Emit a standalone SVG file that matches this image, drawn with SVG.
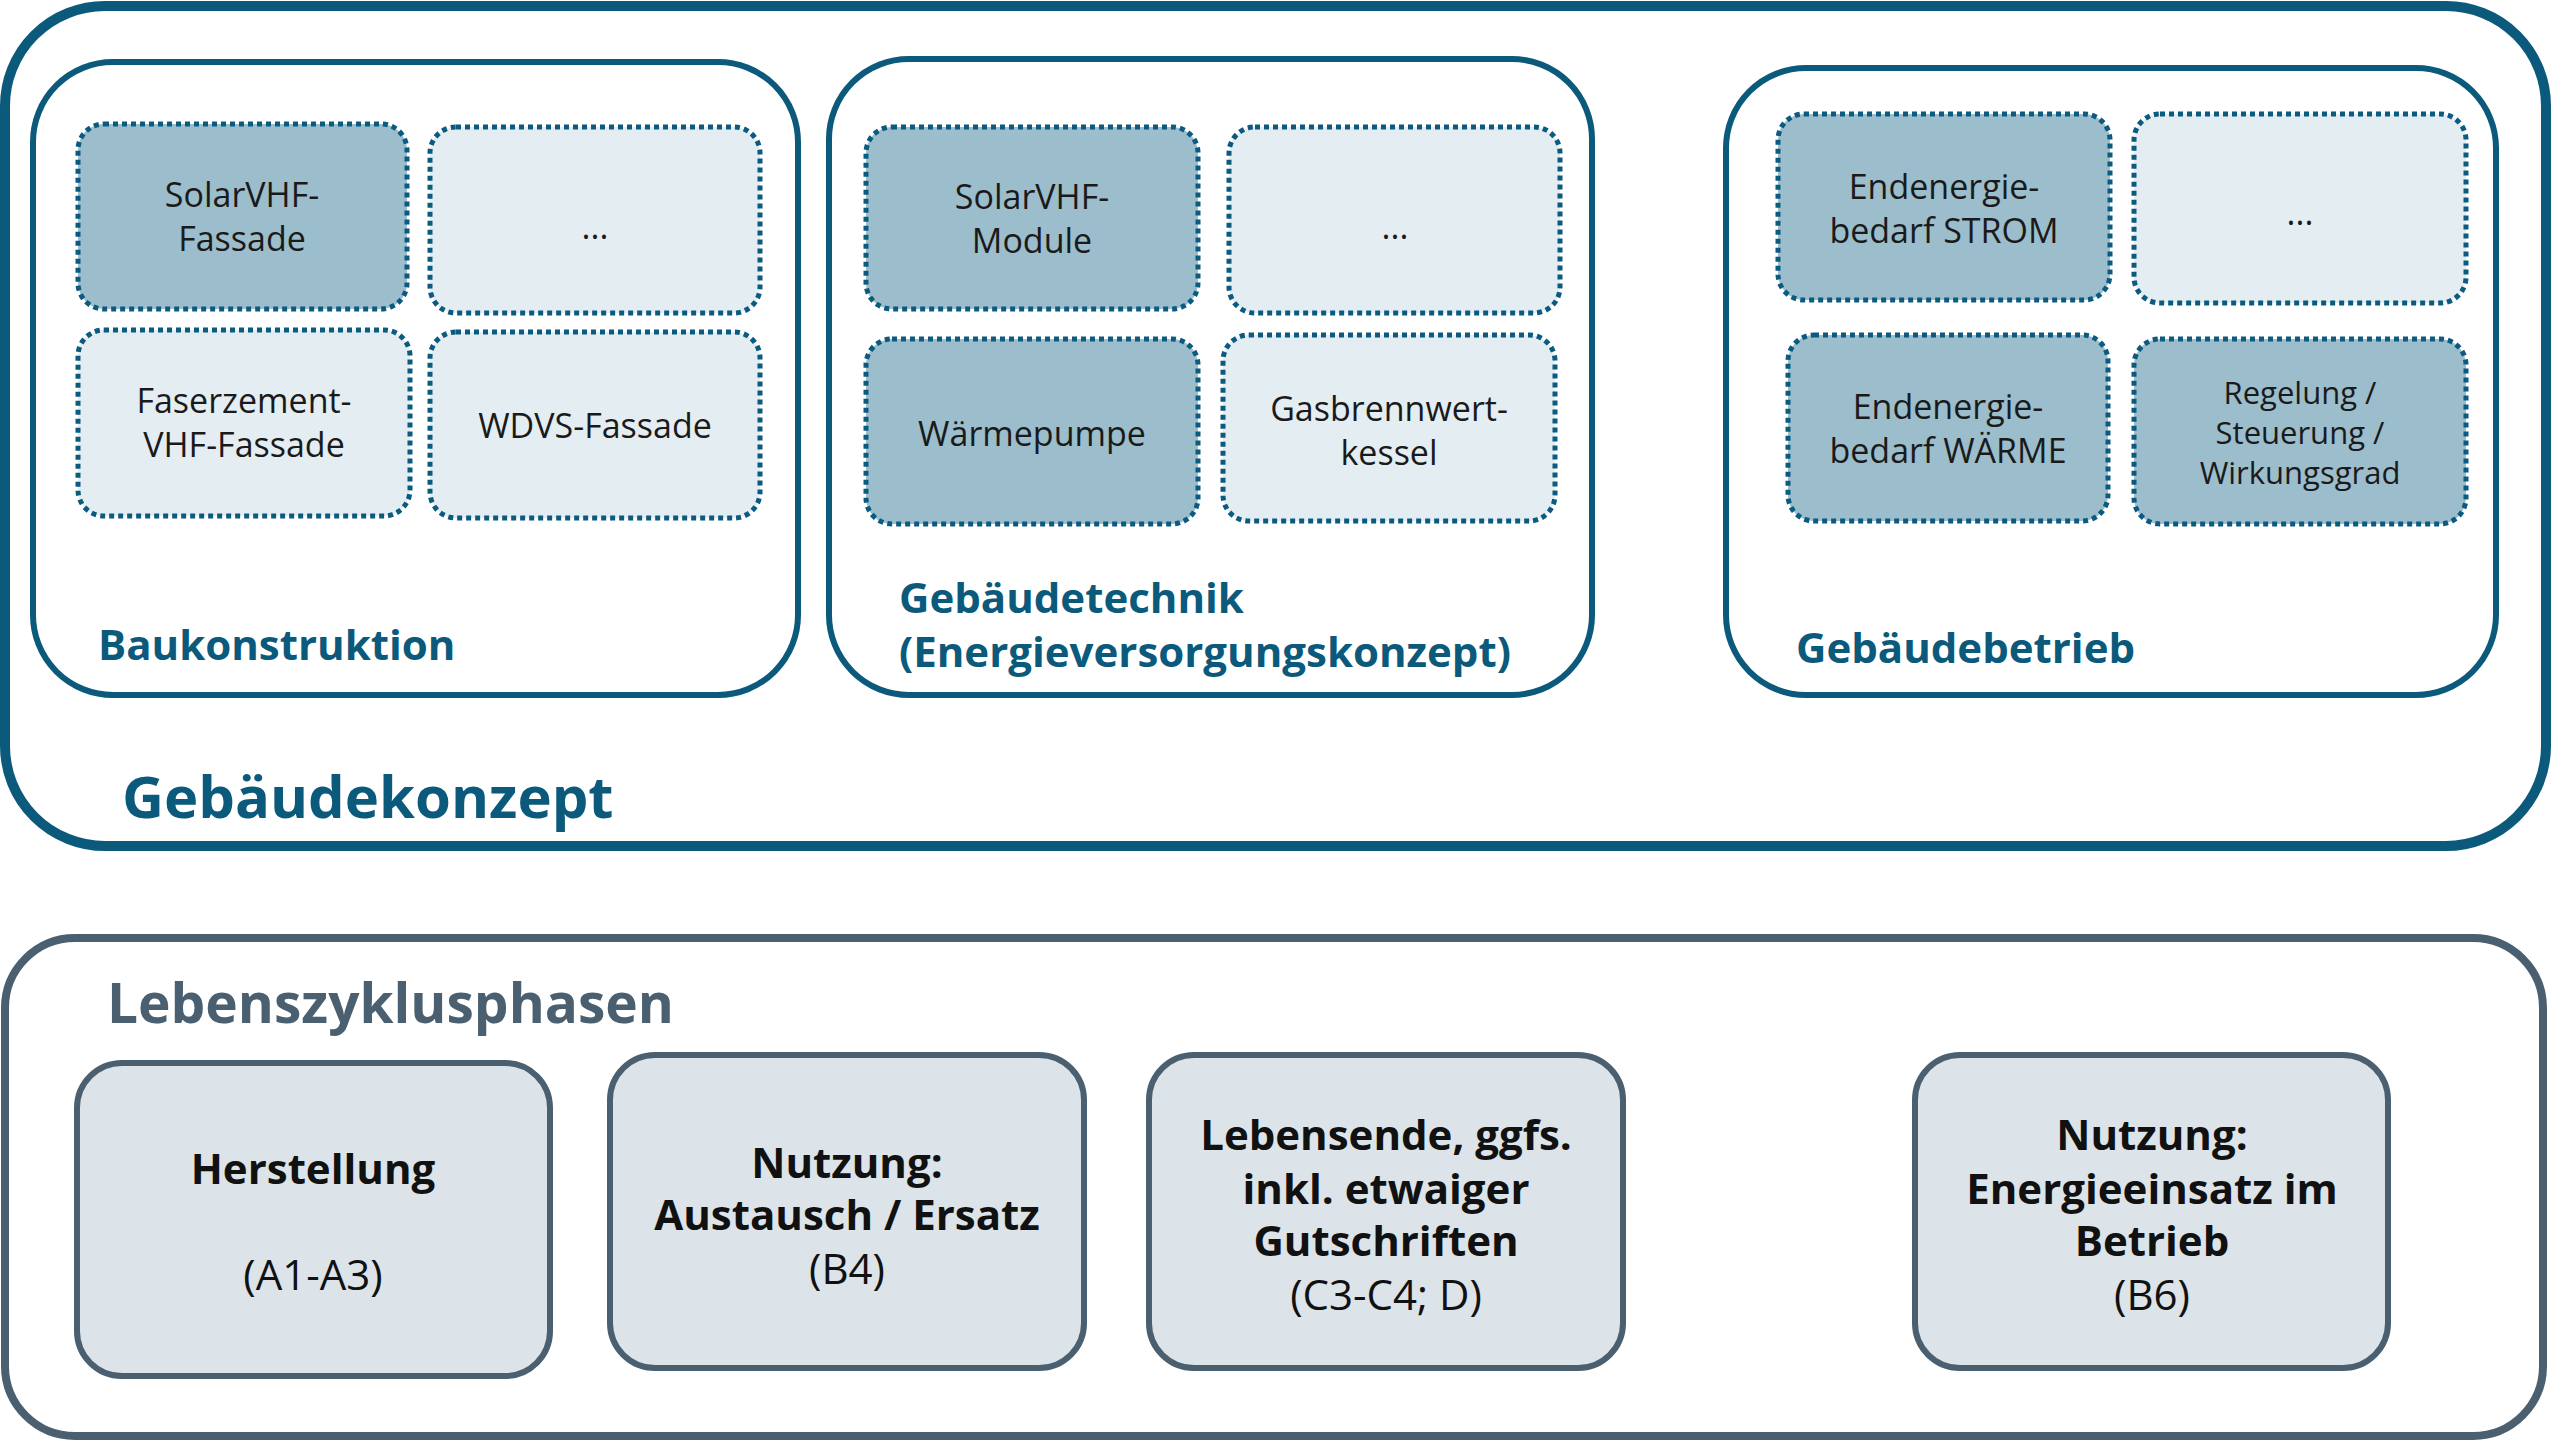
<svg xmlns="http://www.w3.org/2000/svg" width="2553" height="1443" viewBox="0 0 2553 1443">
<style>
text{font-family:"Open Sans","Liberation Sans",sans-serif;dominant-baseline:central;text-anchor:middle}
.grp{fill:#fff;stroke:#0b5a7c;stroke-width:6}
.dk{fill:#9bbdcc;stroke:#0b5a80;stroke-width:5;stroke-dasharray:5 4}
.lt{fill:#e4edf2;stroke:#0b5a80;stroke-width:5;stroke-dasharray:5 4}
.st{font-size:34px;fill:#1a1a1a}
.lb{font-size:42px;font-weight:bold;fill:#0b5a7c;text-anchor:start}
.ph{fill:#dce4e9;stroke:#4a5f70;stroke-width:6}
.pb{font-size:42px;font-weight:bold;fill:#111}
.pn{font-size:42px;fill:#111}
</style>
<rect x="5" y="6" width="2541" height="840" rx="100" fill="#fff" stroke="#0b5a7c" stroke-width="10"/>
<text class="lb" x="122" y="795" style="font-size:58px">Gebäudekonzept</text>
<g id="bau">
<rect class="grp" x="33" y="62" width="765" height="633" rx="80"/>
<text class="lb" x="98" y="643">Baukonstruktion</text>
</g>
<g id="solarvhf-fassade"><rect class="dk" x="78" y="124" width="329" height="185" rx="26"/><text class="st" x="242" y="194">SolarVHF-</text><text class="st" x="242" y="238">Fassade</text></g>
<g id="bau-dots"><rect class="lt" x="430" y="127" width="330" height="186" rx="26"/><text class="st" x="595" y="226">...</text></g>
<g id="faser"><rect class="lt" x="78" y="330" width="332" height="186" rx="26"/><text class="st" x="244" y="400">Faserzement-</text><text class="st" x="244" y="444">VHF-Fassade</text></g>
<g id="wdvs"><rect class="lt" x="430" y="332" width="330" height="186" rx="26"/><text class="st" x="595" y="425">WDVS-Fassade</text></g>
<g id="technik">
<rect class="grp" x="829" y="59" width="763" height="636" rx="80"/>
<text class="lb" x="899" y="596">Gebäudetechnik</text>
<text class="lb" x="899" y="650">(Energieversorgungskonzept)</text>
</g>
<g id="solarvhf-module"><rect class="dk" x="866" y="127" width="332" height="182" rx="26"/><text class="st" x="1032" y="196">SolarVHF-</text><text class="st" x="1032" y="240">Module</text></g>
<g id="tech-dots"><rect class="lt" x="1229" y="127" width="331" height="186" rx="26"/><text class="st" x="1395" y="226">...</text></g>
<g id="waermepumpe"><rect class="dk" x="866" y="339" width="332" height="185" rx="26"/><text class="st" x="1032" y="433">Wärmepumpe</text></g>
<g id="gas"><rect class="lt" x="1223" y="335" width="332" height="186" rx="26"/><text class="st" x="1389" y="408">Gasbrennwert-</text><text class="st" x="1389" y="452">kessel</text></g>
<g id="betrieb">
<rect class="grp" x="1726" y="68" width="770" height="627" rx="80"/>
<text class="lb" x="1796" y="646">Gebäudebetrieb</text>
</g>
<g id="strom"><rect class="dk" x="1778" y="114" width="332" height="186" rx="26"/><text class="st" x="1944" y="186">Endenergie-</text><text class="st" x="1944" y="230">bedarf  STROM</text></g>
<g id="betr-dots"><rect class="lt" x="2134" y="114" width="332" height="189" rx="26"/><text class="st" x="2300" y="212">...</text></g>
<g id="waerme"><rect class="dk" x="1788" y="335" width="320" height="186" rx="26"/><text class="st" x="1948" y="406">Endenergie-</text><text class="st" x="1948" y="450">bedarf WÄRME</text></g>
<g id="regelung"><rect class="dk" x="2134" y="339" width="332" height="185" rx="26"/><text class="st" x="2300" y="392" style="font-size:31px">Regelung /</text><text class="st" x="2300" y="432" style="font-size:31px">Steuerung /</text><text class="st" x="2300" y="472" style="font-size:31px">Wirkungsgrad</text></g>
<g id="phasen">
<rect x="5" y="938" width="2538" height="498" rx="70" fill="#fff" stroke="#4a5f70" stroke-width="8"/>
<text class="lb" x="107" y="1001" style="font-size:55px;fill:#4a6070">Lebenszyklusphasen</text>
</g>
<g id="herstellung"><rect class="ph" x="77" y="1063" width="473" height="313" rx="45"/><text class="pb" x="313" y="1167">Herstellung</text><text class="pn" x="313" y="1273">(A1-A3)</text></g>
<g id="nutzung-b4"><rect class="ph" x="610" y="1055" width="474" height="313" rx="45"/><text class="pb" x="847" y="1161">Nutzung:</text><text class="pb" x="847" y="1213">Austausch / Ersatz</text><text class="pn" x="847" y="1267">(B4)</text></g>
<g id="lebensende"><rect class="ph" x="1149" y="1055" width="474" height="313" rx="45"/><text class="pb" x="1386" y="1133">Lebensende, ggfs.</text><text class="pb" x="1386" y="1187">inkl. etwaiger</text><text class="pb" x="1386" y="1239">Gutschriften</text><text class="pn" x="1386" y="1293">(C3-C4; D)</text></g>
<g id="nutzung-b6"><rect class="ph" x="1915" y="1055" width="473" height="313" rx="45"/><text class="pb" x="2152" y="1133">Nutzung:</text><text class="pb" x="2152" y="1187">Energieeinsatz im</text><text class="pb" x="2152" y="1239">Betrieb</text><text class="pn" x="2152" y="1293">(B6)</text></g>
<g id="connectors"/>
</svg>
